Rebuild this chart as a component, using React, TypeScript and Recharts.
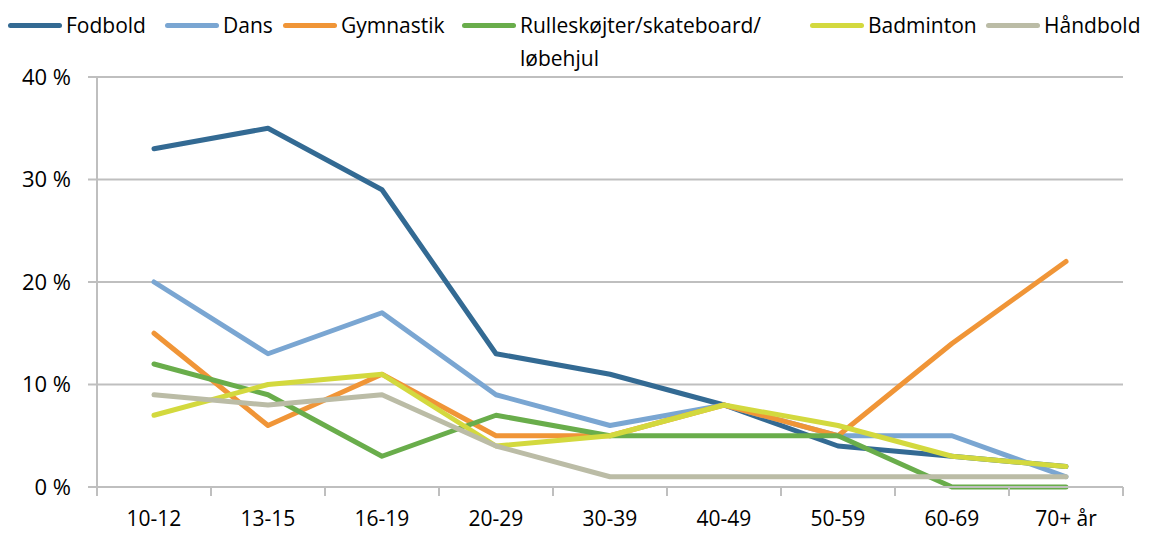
import { CartesianGrid, Line, LineChart, XAxis, YAxis } from "recharts";

const ageGroups = ["10-12", "13-15", "16-19", "20-29", "30-39", "40-49", "50-59", "60-69", "70+ år"];

const fodbold = [33, 35, 29, 13, 11, 8, 4, 3, 2];
const dans = [20, 13, 17, 9, 6, 8, 5, 5, 1];
const gymnastik = [15, 6, 11, 5, 5, 8, 5, 14, 22];
const rulleskoejter = [12, 9, 3, 7, 5, 5, 5, 0, 0];
const badminton = [7, 10, 11, 4, 5, 8, 6, 3, 2];
const haandbold = [9, 8, 9, 4, 1, 1, 1, 1, 1];

const yTicks = [0, 10, 20, 30, 40];

const series = [
  { key: "fodbold", name: "Fodbold", color: "#336A93", values: fodbold },
  { key: "dans", name: "Dans", color: "#7AA6D2", values: dans },
  { key: "gymnastik", name: "Gymnastik", color: "#F09537", values: gymnastik },
  { key: "rulle", name: "Rulleskøjter/skateboard/\nløbehjul", color: "#69AD4B", values: rulleskoejter },
  { key: "badminton", name: "Badminton", color: "#D3D93E", values: badminton },
  { key: "haandbold", name: "Håndbold", color: "#BBBCA6", values: haandbold },
];

const data = ageGroups.map((age, i) => {
  const row: Record<string, string | number> = { age };
  series.forEach((s) => (row[s.key] = s.values[i]));
  return row;
});

const W = 1150;
const H = 533;
const M = { top: 77, right: 27, bottom: 0, left: 0 };
const X_H = 46;
const Y_W = 97;
const FONT = "'Open Sans', sans-serif";
const GRID = "#BFBFBF";

const legendX = [8, 165, 283, 462, 810, 986];

function AgeTick(props: any) {
  const { x, y, payload, index } = props;
  const half = (W - M.left - Y_W - M.right) / ageGroups.length / 2;
  return (
    <g>
      <line x1={x - half} x2={x - half} y1={y - 8} y2={y + 1} stroke={GRID} strokeWidth={2} />
      {index === ageGroups.length - 1 && (
        <line x1={x + half} x2={x + half} y1={y - 8} y2={y + 1} stroke={GRID} strokeWidth={2} />
      )}
      <text x={x} y={y + 31} textAnchor="middle" fontSize={21} fill="#000" fontFamily={FONT}>
        {payload.value}
      </text>
    </g>
  );
}

function ChartLegend() {
  return (
    <>
      {series.map((s, i) => (
        <div
          key={s.key}
          style={{
            position: "absolute",
            left: legendX[i],
            top: 9,
            display: "flex",
            alignItems: "flex-start",
            fontFamily: FONT,
            fontSize: 21,
            lineHeight: "33px",
            color: "#000",
          }}
        >
          <div
            style={{
              width: 54,
              height: 5,
              borderRadius: 3,
              background: s.color,
              marginTop: 14,
              marginRight: 4,
            }}
          />
          <div style={{ whiteSpace: "pre" }}>{s.name}</div>
        </div>
      ))}
    </>
  );
}

export default function App() {
  return (
    <div style={{ position: "absolute", left: 0, top: 0, width: W, height: H, background: "#fff" }}>
      <ChartLegend />
      <LineChart width={W} height={H} data={data} margin={M}>
        <CartesianGrid vertical={false} stroke={GRID} strokeWidth={2} />
        <XAxis
          dataKey="age"
          scale="band"
          interval={0}
          axisLine={{ stroke: GRID, strokeWidth: 2 }}
          tickLine={false}
          tick={<AgeTick />}
          height={X_H}
        />
        <YAxis
          domain={[0, 40]}
          ticks={yTicks}
          width={Y_W}
          tickFormatter={(v: number) => `${v} %`}
          axisLine={{ stroke: GRID, strokeWidth: 2 }}
          tickLine={{ stroke: GRID, strokeWidth: 2 }}
          tickSize={9}
          tickMargin={17}
          tick={{ fontSize: 22, fill: "#000", fontFamily: FONT }}
        />
        {series.map((s) => (
          <Line
            key={s.key}
            type="linear"
            dataKey={s.key}
            name={s.name}
            stroke={s.color}
            strokeWidth={5}
            strokeLinecap="round"
            strokeLinejoin="round"
            dot={false}
            activeDot={false}
            isAnimationActive={false}
          />
        ))}
      </LineChart>
    </div>
  );
}
